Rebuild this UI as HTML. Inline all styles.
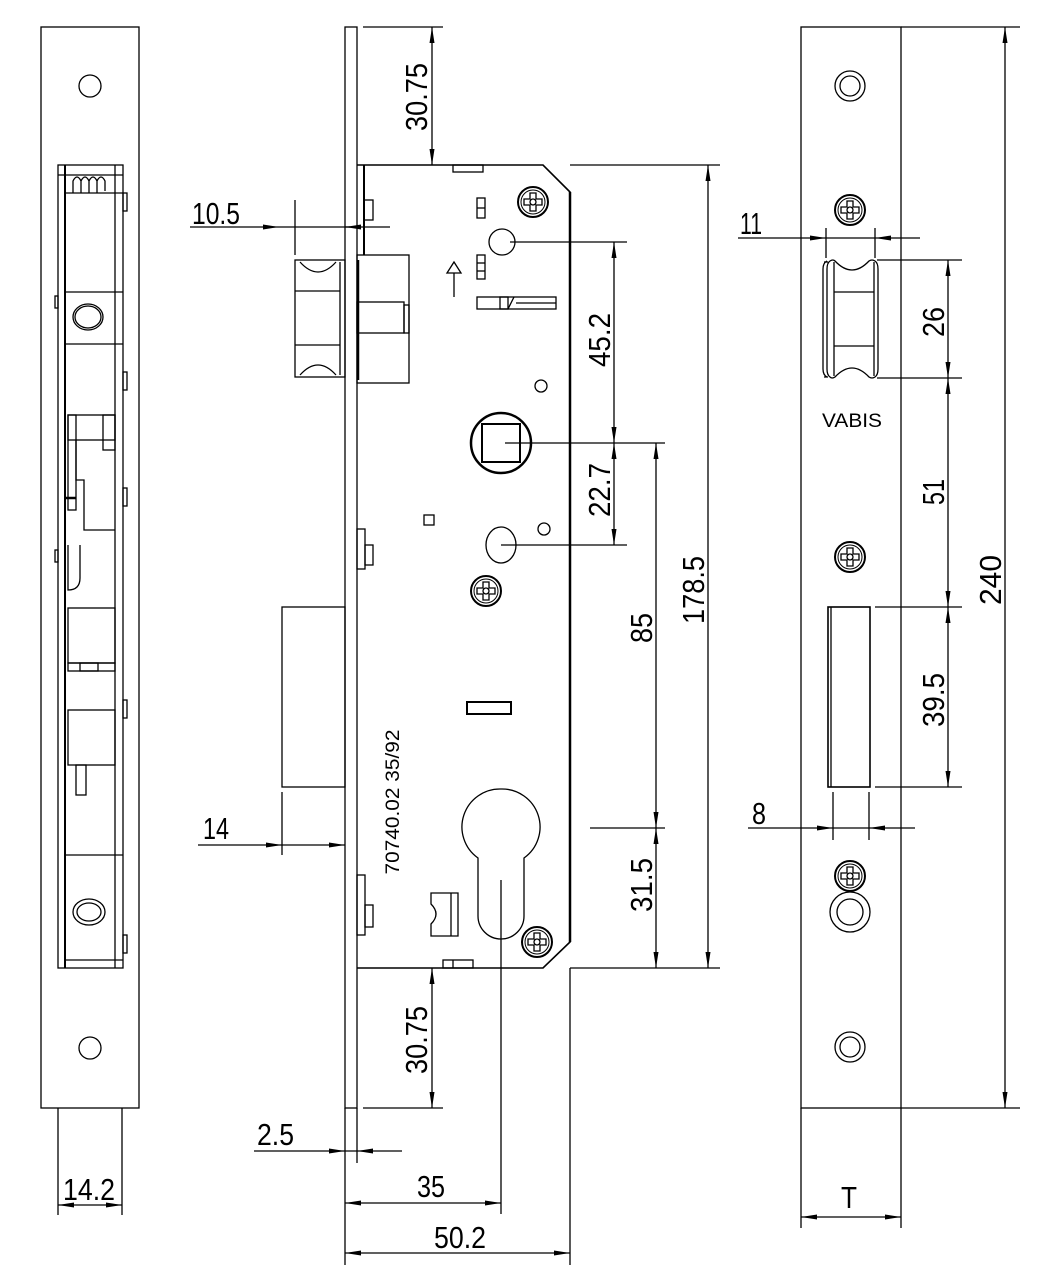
<!DOCTYPE html>
<html><head><meta charset="utf-8"><style>
html,body{margin:0;padding:0;background:#fff;}
svg{display:block}
text{font-family:"Liberation Sans",sans-serif;font-size:31px;fill:#000}
</style></head><body>
<svg width="1050" height="1280" viewBox="0 0 1050 1280" xmlns="http://www.w3.org/2000/svg">
<defs>
<marker id="a" viewBox="0 0 16 6" refX="16" refY="3" markerWidth="16" markerHeight="6" markerUnits="userSpaceOnUse" orient="auto-start-reverse"><path d="M0,0.5 L16,3 L0,5.5z" fill="#000"/></marker>
<g id="scr"><circle r="15" fill="none" stroke="#000" stroke-width="2"/><circle r="12" fill="none" stroke="#000" stroke-width="1"/><path d="M-3,-9 L3,-9 L3,-3 L9,-3 L9,3 L3,3 L3,9 L-3,9 L-3,3 L-9,3 L-9,-3 L-3,-3Z" fill="none" stroke="#000" stroke-width="1.3"/><circle r="3" fill="none" stroke="#000"/></g>
</defs>
<g fill="none" stroke="#000" stroke-width="1.3">
<!-- LEFT PLATE -->
<rect x="41" y="27" width="98" height="1081"/>
<circle cx="90" cy="86" r="11"/>
<circle cx="90" cy="1048" r="11"/>
<rect x="58" y="165" width="65" height="803"/>
<line x1="65" y1="165" x2="65" y2="968" stroke-width="2"/>
<line x1="115" y1="165" x2="115" y2="968"/>
<line x1="58" y1="175" x2="123" y2="175"/>
<line x1="65" y1="193" x2="123" y2="193"/>
<path d="M73,193 v-12 q4,-8 8,0 v12 M81,181 q4,-8 8,0 v12 M89,181 q4,-8 8,0 v12 M97,181 q4,-8 8,0 v10"/>
<rect x="123" y="193" width="4" height="18"/>
<line x1="65" y1="292" x2="123" y2="292"/>
<line x1="65" y1="344" x2="123" y2="344"/>
<ellipse cx="88" cy="317" rx="15" ry="13"/>
<ellipse cx="88" cy="317" rx="13" ry="11"/>
<rect x="55" y="296" width="3" height="12"/>
<rect x="123" y="372" width="4" height="18"/>
<rect x="68" y="415" width="47" height="25"/>
<rect x="103" y="415" width="12" height="35"/>
<path d="M76,440 v40 h8 v50 h31"/>
<rect x="68" y="415" width="8" height="95"/>
<line x1="65" y1="498" x2="76" y2="498" stroke-width="2.5"/>
<rect x="123" y="488" width="4" height="18"/>
<rect x="55" y="550" width="3" height="12"/>
<path d="M68,545 v45 q12,0 12,-12 v-33"/>
<rect x="68" y="608" width="47" height="55"/>
<rect x="68" y="663" width="47" height="8"/>
<rect x="80" y="663" width="18" height="8"/>
<rect x="68" y="710" width="47" height="55"/>
<rect x="76" y="765" width="10" height="30"/>
<rect x="123" y="700" width="4" height="18"/>
<line x1="65" y1="855" x2="123" y2="855"/>
<line x1="65" y1="960" x2="123" y2="960"/>
<ellipse cx="89" cy="912" rx="16" ry="13"/>
<ellipse cx="89" cy="912" rx="12" ry="9"/>
<rect x="123" y="935" width="4" height="18"/>
<line x1="58" y1="1108" x2="58" y2="1215"/>
<line x1="122" y1="1108" x2="122" y2="1215"/>
<line x1="58" y1="1205" x2="122" y2="1205" marker-start="url(#a)" marker-end="url(#a)"/>

<!-- MIDDLE LOCK -->
<rect x="345" y="27" width="12" height="1081"/>
<path d="M357,165 H543 L570,192 V942 L543,968 H357" stroke-width="1.6"/>
<line x1="570" y1="192" x2="570" y2="942" stroke-width="2.5"/>
<rect x="453" y="165" width="30" height="7"/>
<rect x="443" y="960" width="30" height="8"/>
<line x1="453" y1="960" x2="453" y2="968"/>
<line x1="364" y1="165" x2="364" y2="255" stroke-width="2"/>
<rect x="364" y="200" width="9" height="20"/>
<rect x="357" y="529" width="8" height="40"/><rect x="365" y="545" width="8" height="20"/>
<rect x="357" y="875" width="8" height="60"/><rect x="365" y="905" width="8" height="22"/>
<!-- latch -->
<rect x="295" y="260" width="50" height="117"/>
<line x1="295" y1="291" x2="340" y2="291"/>
<line x1="295" y1="345" x2="340" y2="345"/>
<line x1="340" y1="262" x2="340" y2="375"/>
<path d="M300,262 q18,20 36,0 M300,375 q18,-20 36,0"/>
<rect x="357" y="255" width="52" height="128"/>
<line x1="358" y1="260" x2="358" y2="380" stroke-width="2.5"/>
<rect x="357" y="302" width="47" height="31"/>
<rect x="404" y="305" width="5" height="28"/>
<!-- deadbolt -->
<rect x="282" y="607" width="63" height="180"/>
<!-- details -->
<use href="#scr" x="533" y="202"/>
<use href="#scr" x="486" y="591"/>
<use href="#scr" x="537" y="942"/>
<rect x="477" y="198" width="8" height="20"/><line x1="477" y1="208" x2="485" y2="208"/>
<rect x="477" y="255" width="8" height="24"/><line x1="477" y1="263" x2="485" y2="263"/><line x1="477" y1="271" x2="485" y2="271"/>
<circle cx="502" cy="242" r="13"/>
<path d="M447,273 l7,-11 l7,11z"/><line x1="454" y1="273" x2="454" y2="297"/>
<rect x="477" y="297" width="79" height="12"/>
<rect x="500" y="297" width="8" height="12"/><line x1="508" y1="309" x2="514" y2="297"/><line x1="516" y1="303" x2="556" y2="303"/>
<circle cx="541" cy="386" r="6"/>
<circle cx="501" cy="443" r="30" stroke-width="2.5"/>
<rect x="482" y="424" width="38" height="38" stroke-width="2"/>
<rect x="424" y="515" width="10" height="10"/>
<circle cx="544" cy="529" r="6"/>
<ellipse cx="501" cy="545" rx="15" ry="18"/>
<rect x="467" y="702" width="44" height="12" stroke-width="2"/>
<path d="M501,789 a38,38 0 0 1 23,69 v58 a23,23 0 0 1 -46,0 v-58 a38,38 0 0 1 23,-69z"/>
<path d="M431,893 h27 v43 h-27 v-12 q10,-10 0,-20z"/><line x1="451" y1="893" x2="451" y2="936"/>
<!-- dims middle -->
<line x1="363" y1="27" x2="443" y2="27"/>
<line x1="432" y1="27" x2="432" y2="165" marker-start="url(#a)" marker-end="url(#a)"/>
<line x1="570" y1="165" x2="720" y2="165"/>
<line x1="570" y1="968" x2="720" y2="968"/>
<line x1="708" y1="165" x2="708" y2="968" marker-start="url(#a)" marker-end="url(#a)"/>
<line x1="510" y1="242" x2="627" y2="242"/>
<line x1="505" y1="443" x2="665" y2="443"/>
<line x1="501" y1="545" x2="627" y2="545"/>
<line x1="614" y1="242" x2="614" y2="443" marker-start="url(#a)" marker-end="url(#a)"/>
<line x1="614" y1="443" x2="614" y2="545" marker-start="url(#a)" marker-end="url(#a)"/>
<line x1="590" y1="828" x2="665" y2="828"/>
<line x1="656" y1="443" x2="656" y2="828" marker-start="url(#a)" marker-end="url(#a)"/>
<line x1="656" y1="828" x2="656" y2="968" marker-start="url(#a)" marker-end="url(#a)"/>
<line x1="432" y1="968" x2="432" y2="1108" marker-start="url(#a)" marker-end="url(#a)"/>
<line x1="363" y1="1108" x2="443" y2="1108"/>
<line x1="295" y1="200" x2="295" y2="255"/>
<line x1="190" y1="227" x2="279" y2="227" marker-end="url(#a)"/>
<line x1="279" y1="227" x2="390" y2="227"/>
<line x1="350" y1="227" x2="345" y2="227" marker-end="url(#a)"/>
<line x1="282" y1="792" x2="282" y2="855"/>
<line x1="198" y1="845" x2="345" y2="845"/>
<polygon points="345,845 329,842.5 329,847.5" fill="#000" stroke="none"/>
<line x1="345" y1="1108" x2="345" y2="1265"/>
<line x1="357" y1="1108" x2="357" y2="1163"/>
<line x1="254" y1="1151" x2="402" y2="1151"/>
<polygon points="329,1148.5 345,1151 329,1153.5" fill="#000" stroke="none"/>
<polygon points="373,1148.5 357,1151 373,1153.5" fill="#000" stroke="none"/>
<line x1="501" y1="880" x2="501" y2="1214"/>
<line x1="345" y1="1203" x2="501" y2="1203" marker-start="url(#a)" marker-end="url(#a)"/>
<line x1="570" y1="968" x2="570" y2="1265"/>
<line x1="345" y1="1253" x2="570" y2="1253" marker-start="url(#a)" marker-end="url(#a)"/>

<!-- RIGHT STRIKE -->
<rect x="801" y="27" width="100" height="1081"/>
<circle cx="850" cy="86" r="15"/><circle cx="850" cy="86" r="10"/>
<circle cx="850" cy="1047" r="15"/><circle cx="850" cy="1047" r="10"/>
<use href="#scr" x="850" y="210"/>
<use href="#scr" x="850" y="557"/>
<use href="#scr" x="850" y="876"/>
<circle cx="850" cy="912" r="20"/><circle cx="850" cy="912" r="13"/>
<path d="M827,261 q-4,2 -4,8 v100 q0,6 4,8 M824,262 h4 M824,377 h4"/>
<path d="M830,261 q3,-2 5,0 q17,18 34,0 q3,-2 6,0 q3,2 3,8 v100 q0,6 -3,8 q-3,2 -6,0 q-17,-18 -34,0 q-3,2 -5,0 q-3,-2 -3,-8 v-100 q0,-6 3,-8z"/>
<line x1="834" y1="262" x2="834" y2="376"/><line x1="874" y1="262" x2="874" y2="376"/>
<line x1="834" y1="292" x2="874" y2="292"/><line x1="834" y1="346" x2="874" y2="346"/>
<rect x="828" y="607" width="42" height="180" stroke-width="1.6"/>
<line x1="831" y1="607" x2="831" y2="787"/>
<line x1="877" y1="260" x2="962" y2="260"/>
<line x1="877" y1="378" x2="962" y2="378"/>
<line x1="875" y1="607" x2="962" y2="607"/>
<line x1="875" y1="787" x2="962" y2="787"/>
<line x1="948" y1="260" x2="948" y2="378" marker-start="url(#a)" marker-end="url(#a)"/>
<line x1="948" y1="378" x2="948" y2="607" marker-start="url(#a)" marker-end="url(#a)"/>
<line x1="948" y1="607" x2="948" y2="787" marker-start="url(#a)" marker-end="url(#a)"/>
<line x1="901" y1="27" x2="1020" y2="27"/>
<line x1="901" y1="1108" x2="1020" y2="1108"/>
<line x1="1005" y1="27" x2="1005" y2="1108" marker-start="url(#a)" marker-end="url(#a)"/>
<line x1="826" y1="228" x2="826" y2="258"/><line x1="875" y1="228" x2="875" y2="258"/>
<line x1="738" y1="238" x2="920" y2="238"/>
<polygon points="810,235.5 826,238 810,240.5" fill="#000" stroke="none"/>
<polygon points="891,235.5 875,238 891,240.5" fill="#000" stroke="none"/>
<line x1="833" y1="792" x2="833" y2="840"/><line x1="869" y1="792" x2="869" y2="840"/>
<line x1="748" y1="828" x2="915" y2="828"/>
<polygon points="817,825.5 833,828 817,830.5" fill="#000" stroke="none"/>
<polygon points="885,825.5 869,828 885,830.5" fill="#000" stroke="none"/>
<line x1="801" y1="1108" x2="801" y2="1228"/>
<line x1="901" y1="1108" x2="901" y2="1228"/>
<line x1="801" y1="1217" x2="901" y2="1217" marker-start="url(#a)" marker-end="url(#a)"/>
</g>
<polygon points="266,842.5 282,845 266,847.5" fill="#000"/>
<g>
<text x="63" y="1200" textLength="52" lengthAdjust="spacingAndGlyphs">14.2</text>
<text x="192" y="224" textLength="48" lengthAdjust="spacingAndGlyphs">10.5</text>
<text x="203" y="839" textLength="26" lengthAdjust="spacingAndGlyphs">14</text>
<text x="257" y="1145" textLength="37" lengthAdjust="spacingAndGlyphs">2.5</text>
<text x="417" y="1197" textLength="28" lengthAdjust="spacingAndGlyphs">35</text>
<text x="434" y="1248" textLength="52" lengthAdjust="spacingAndGlyphs">50.2</text>
<text x="740" y="234" textLength="22" lengthAdjust="spacingAndGlyphs">11</text>
<text x="752" y="824" textLength="14" lengthAdjust="spacingAndGlyphs">8</text>
<text x="841" y="1208" textLength="16" lengthAdjust="spacingAndGlyphs">T</text>
<text x="822" y="427" style="font-size:19px" textLength="60" lengthAdjust="spacingAndGlyphs">VABIS</text>
<text transform="translate(427,97) rotate(-90)" text-anchor="middle" textLength="68" lengthAdjust="spacingAndGlyphs">30.75</text>
<text transform="translate(427,1040) rotate(-90)" text-anchor="middle" textLength="68" lengthAdjust="spacingAndGlyphs">30.75</text>
<text transform="translate(610,340) rotate(-90)" text-anchor="middle" textLength="54" lengthAdjust="spacingAndGlyphs">45.2</text>
<text transform="translate(610,490) rotate(-90)" text-anchor="middle" textLength="54" lengthAdjust="spacingAndGlyphs">22.7</text>
<text transform="translate(652,628) rotate(-90)" text-anchor="middle" textLength="30" lengthAdjust="spacingAndGlyphs">85</text>
<text transform="translate(652,885) rotate(-90)" text-anchor="middle" textLength="54" lengthAdjust="spacingAndGlyphs">31.5</text>
<text transform="translate(704,590) rotate(-90)" text-anchor="middle" textLength="68" lengthAdjust="spacingAndGlyphs">178.5</text>
<text transform="translate(944,322) rotate(-90)" text-anchor="middle" textLength="30" lengthAdjust="spacingAndGlyphs">26</text>
<text transform="translate(944,492) rotate(-90)" text-anchor="middle" textLength="26" lengthAdjust="spacingAndGlyphs">51</text>
<text transform="translate(944,700) rotate(-90)" text-anchor="middle" textLength="54" lengthAdjust="spacingAndGlyphs">39.5</text>
<text transform="translate(1001,580) rotate(-90)" text-anchor="middle" textLength="50" lengthAdjust="spacingAndGlyphs">240</text>
<text transform="translate(399,802) rotate(-90)" text-anchor="middle" style="font-size:19px" textLength="145" lengthAdjust="spacingAndGlyphs">70740.02  35/92</text>
</g>
</svg>
</body></html>
